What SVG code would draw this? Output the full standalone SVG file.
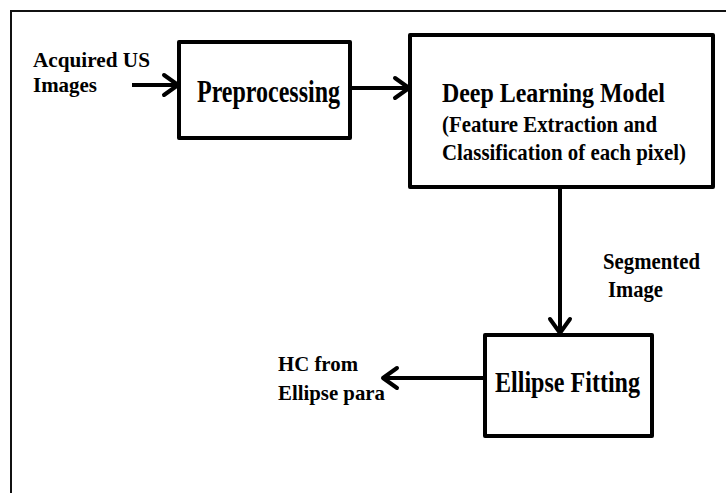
<svg xmlns="http://www.w3.org/2000/svg" width="726" height="493" viewBox="0 0 726 493">
<style>
.box{fill:#fff;stroke:#000;stroke-width:4;stroke-linejoin:round}
.t{font-family:"Liberation Serif","Times New Roman",serif;font-weight:bold;fill:#000}
.edge{stroke:#000;stroke-width:4;fill:none}
</style>
<defs>
<marker id="ah" markerUnits="userSpaceOnUse" markerWidth="30" markerHeight="30" viewBox="-20 -15 30 30" refX="0" refY="0" orient="auto">
<path d="M-14,-10 L0,0 L-14,10" fill="none" stroke="#000" stroke-width="4" stroke-linecap="round" stroke-linejoin="round"/>
</marker>
</defs>
<rect width="726" height="493" fill="#fff"/>
<path d="M11,500 L11,11 L740,11" fill="none" stroke="#111" stroke-width="2"/>
<g id="connectors">
<line class="edge" x1="132" y1="85" x2="178" y2="85" marker-end="url(#ah)"/>
<line class="edge" x1="350" y1="88" x2="409" y2="88" marker-end="url(#ah)"/>
<line class="edge" x1="560" y1="187" x2="560" y2="333" marker-end="url(#ah)"/>
<line class="edge" x1="485" y1="378" x2="383" y2="378" marker-end="url(#ah)"/>
<text class="t" x="603" y="269" font-size="23" textLength="97" lengthAdjust="spacingAndGlyphs">Segmented</text>
<text class="t" x="608" y="297" font-size="23" textLength="55" lengthAdjust="spacingAndGlyphs">Image</text>
</g>
<g id="input">
<text class="t" x="33" y="67" font-size="22" textLength="117" lengthAdjust="spacingAndGlyphs">Acquired US</text>
<text class="t" x="33" y="92" font-size="22" textLength="64" lengthAdjust="spacingAndGlyphs">Images</text>
</g>
<g id="preprocessing">
<rect class="box" x="179" y="42" width="171" height="96"/>
<text class="t" x="197" y="102" font-size="31" textLength="143" lengthAdjust="spacingAndGlyphs">Preprocessing</text>
</g>
<g id="deep-learning-model">
<rect class="box" x="410" y="35" width="303" height="152"/>
<text class="t" x="442" y="102" font-size="28" textLength="223" lengthAdjust="spacingAndGlyphs">Deep Learning Model</text>
<text class="t" x="442" y="132" font-size="24" textLength="215" lengthAdjust="spacingAndGlyphs">(Feature Extraction and</text>
<text class="t" x="442" y="160" font-size="24" textLength="244" lengthAdjust="spacingAndGlyphs">Classification of each pixel)</text>
</g>
<g id="ellipse-fitting">
<rect class="box" x="485" y="335" width="167" height="101"/>
<text class="t" x="495" y="392" font-size="30" textLength="145" lengthAdjust="spacingAndGlyphs">Ellipse Fitting</text>
</g>
<g id="output">
<text class="t" x="278" y="371" font-size="22" textLength="80" lengthAdjust="spacingAndGlyphs">HC from</text>
<text class="t" x="278" y="400" font-size="22" textLength="107" lengthAdjust="spacingAndGlyphs">Ellipse para</text>
</g>
</svg>
